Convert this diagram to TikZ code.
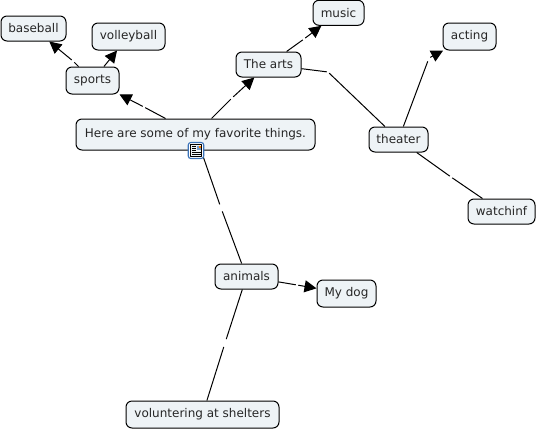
\documentclass[tikz,border=0pt]{standalone}
\usepackage{fontspec}
\setmainfont{DejaVu Sans}
\usetikzlibrary{arrows.meta}
\begin{document}
\begin{tikzpicture}[x=1pt, y=-1pt, line join=round, line width=1pt, >={Triangle[length=12pt,width=12pt]},
		concept/.style={draw, rounded corners=6pt, fill=boxfill, inner sep=0pt, text=black!85, font=\fontsize{12}{14}\selectfont},
		linkgap/.style={inner sep=0pt, minimum width=1.5pt, minimum height=10pt}]
	\definecolor{boxfill}{HTML}{EEF3F6}
	\definecolor{iconblue}{HTML}{3A72B8}
	\useasboundingbox (0,0) rectangle (537,431);
	\node[concept, minimum width=65pt, minimum height=25pt] (baseball) at (33.5,28.5) {baseball};
	\node[concept, minimum width=73pt, minimum height=27pt] (volleyball) at (128.5,36.5) {volleyball};
	\node[concept, minimum width=53pt, minimum height=27pt] (sports) at (92.5,80.5) {sports};
	\node[concept, minimum width=239pt, minimum height=31pt] (things) at (195.5,134.5) {Here are some of my favorite things.};
	\node[concept, minimum width=65pt, minimum height=25pt] (arts) at (268.5,64.5) {The arts};
	\node[concept, minimum width=51pt, minimum height=25pt] (music) at (338.5,12.8) {music};
	\node[concept, minimum width=53pt, minimum height=27pt] (acting) at (469.5,36.5) {acting};
	\node[concept, minimum width=59pt, minimum height=25pt] (theater) at (398.5,139.5) {theater};
	\node[concept, minimum width=67pt, minimum height=25pt] (watchinf) at (501.5,211.5) {watchinf};
	\node[concept, minimum width=63pt, minimum height=25pt] (animals) at (246.5,276.5) {animals};
	\node[concept, minimum width=59pt, minimum height=27pt] (dog) at (346.5,293.5) {My dog};
	\node[concept, minimum width=153pt, minimum height=27pt] (shelters) at (202.5,414.5) {voluntering at shelters};
	\node[linkgap] (thingsSports) at (144,107) {};
	\node[linkgap] (sportsBaseball) at (73,61) {};
	\node[linkgap] (thingsArts) at (232,98) {};
	\node[linkgap] (artsMusic) at (304,39) {};
	\node[linkgap] (artsTheater) at (328,72) {};
	\node[linkgap, minimum height=14pt] (theaterActing) at (429,58) {};
	\node[linkgap] (theaterWatchinf) at (451,177) {};
	\node[linkgap] (thingsAnimals) at (221,208) {};
	\node[linkgap] (animalsDog) at (297,285) {};
	\node[linkgap, minimum height=13pt] (animalsShelters) at (225,343) {};
	\draw (things) -- (thingsSports);
	\draw[->] (thingsSports) -- (sports);
	\draw (sports) -- (sportsBaseball);
	\draw[->] (sportsBaseball) -- (baseball);
	\draw[->] (sports) -- (volleyball);
	\draw (things) -- (thingsArts);
	\draw[->] (thingsArts) -- (arts);
	\draw (arts) -- (artsMusic);
	\draw[->] (artsMusic) -- (music);
	\draw (arts) -- (artsTheater);
	\draw (artsTheater) -- (theater);
	\draw (theater) -- (theaterActing);
	\draw[->] (theaterActing) -- (acting);
	\draw (theater) -- (theaterWatchinf);
	\draw (theaterWatchinf) -- (watchinf);
	\draw (things) -- (thingsAnimals);
	\draw (thingsAnimals) -- (animals);
	\draw (animals) -- (animalsDog);
	\draw[->] (animalsDog) -- (dog);
	\draw (animals) -- (animalsShelters);
	\draw (animalsShelters) -- (shelters);
	\node[draw=iconblue, fill=white, rounded corners=2.5pt, line width=1.1pt, inner sep=0pt, minimum width=15.5pt, minimum height=16pt] (icon) at (196,150.5) {};
	\draw[line width=0.8pt, fill=boxfill] (190.5,144.5) rectangle (201.5,156.5);
	\fill[iconblue!70] (196.5,145.5) rectangle (200.5,150);
	\fill[orange] (198.5,145.5) rectangle (200.5,147.5);
	\draw[line width=0.7pt] (192,146) -- (195.5,146) (192,148) -- (195.5,148) (192,150) -- (195.5,150) (192,152) -- (200.5,152) (192,154) -- (200.5,154);
\end{tikzpicture}
\end{document}
